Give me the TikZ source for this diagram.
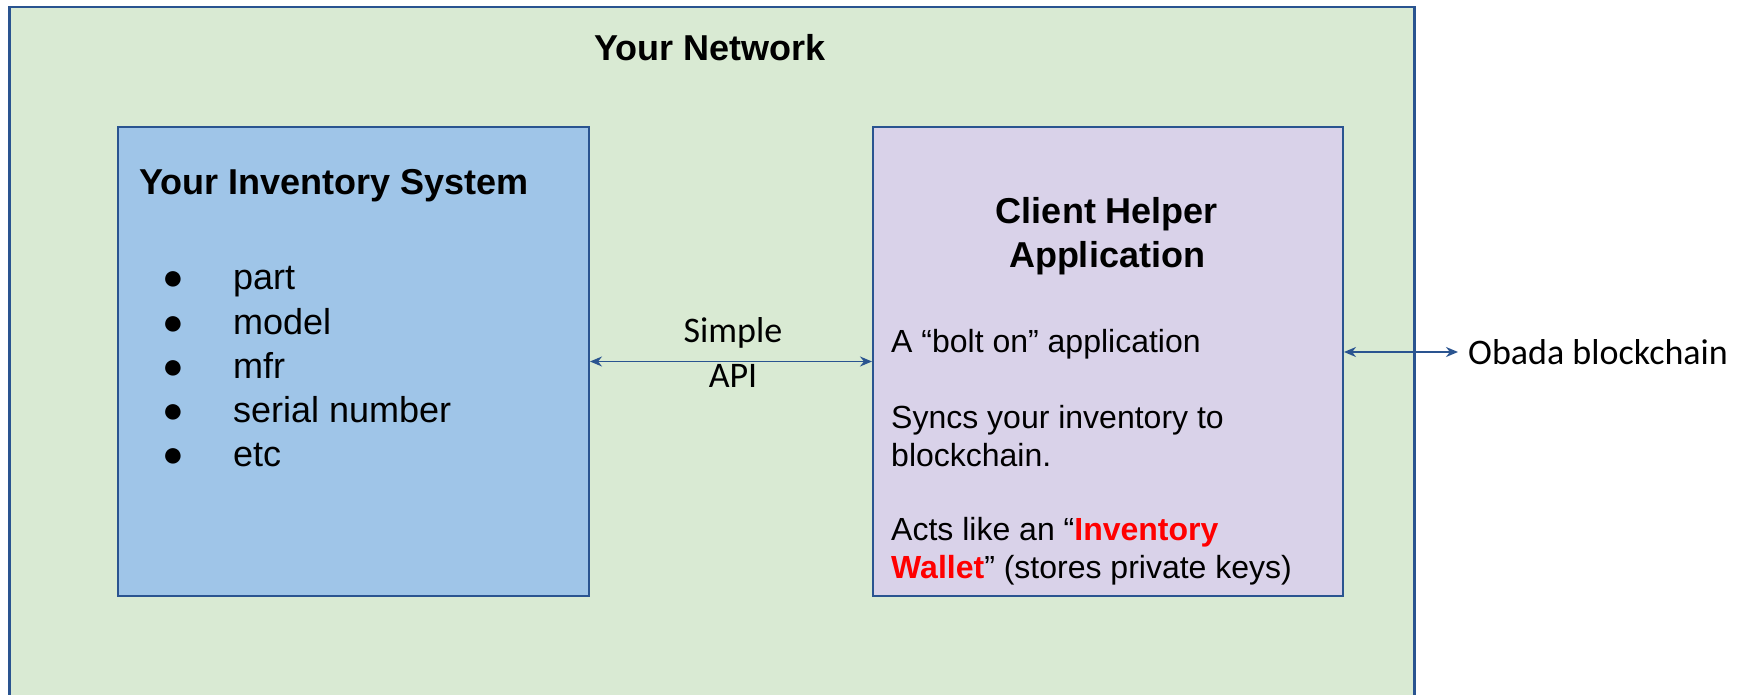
\documentclass[tikz,border=0pt]{standalone}
\usepackage{fontspec}
\setmainfont{Liberation Sans}
\newfontfamily\calfont{Carlito}
\usetikzlibrary{arrows.meta}
\definecolor{netgreen}{HTML}{D9EAD3}
\definecolor{invblue}{HTML}{9FC5E8}
\definecolor{apppurple}{HTML}{D9D2E9}
\definecolor{edgeblue}{HTML}{2A5490}
\definecolor{wred}{HTML}{FF0000}
\begin{document}
\begin{tikzpicture}[x=1pt,y=-1pt,
  box/.style={draw=edgeblue, line width=2pt, anchor=north west, inner sep=0pt},
  lbl/.style={inner sep=0pt, anchor=base west},
  titlefont/.style={font=\fontsize{36}{44}\selectfont\bfseries},
  listfont/.style={font=\fontsize{36}{44}\selectfont},
  bodyfont/.style={font=\fontsize{32}{38}\selectfont},
  calfontstyle/.style={font=\fontsize{36}{45}\selectfont\calfont},
  conn/.style={draw=edgeblue, line width=1.8pt, {Stealth[length=12pt,width=10pt]}-{Stealth[length=12pt,width=10pt]}},
]
\useasboundingbox (0,0) rectangle (1738,695);
\clip (0,0) rectangle (1738,695);
\fill[white] (0,0) rectangle (1738,695);

% boxes
\node[box, fill=netgreen, line width=2.5pt, minimum width=1405pt, minimum height=720pt] (net) at (8,6) {};
\node[box, fill=invblue, minimum width=471pt, minimum height=469pt] (inv) at (117,126) {};
\node[box, fill=apppurple, minimum width=470pt, minimum height=469pt] (app) at (872,126) {};

% titles
\node[inner sep=0pt, anchor=base, titlefont] (nettitle) at (710,61) {Your Network};
\node[lbl, titlefont] (invtitle) at (139,195) {Your Inventory System};
\node[inner sep=0pt, anchor=base, titlefont, align=center] (apptitle) at (1107,268) {Client Helper\\Application};

% list
\foreach \i/\t/\y in {1/part/290, 2/model/334, 3/mfr/378, 4/serial number/422, 5/etc/466}{
  \node[inner sep=0pt, anchor=base, listfont] (bul\i) at (173,\y) {●};
  \node[lbl, listfont] (item\i) at (233,\y) {\t};
}

% body text
\node[lbl, bodyfont] (bolt) at (891,352) {A “bolt on” application};
\node[lbl, bodyfont, align=left] (syncs) at (891,466) {Syncs your inventory to\\blockchain.};
\node[lbl, bodyfont, align=left] (wallet) at (891,578) {Acts like an “\textcolor{wred}{\bfseries Inventory}\\\textcolor{wred}{\bfseries Wallet}” (stores private keys)};

% connectors
\node[inner sep=0pt, anchor=center, calfontstyle, align=center] (api) at (733,353) {Simple\\API};
\node[inner sep=0pt, anchor=west, calfontstyle] (obada) at (1468,352) {Obada blockchain};
\coordinate (obtip) at (1458,352);
\draw[conn] (inv.east) -- (app.west);
\draw[conn] (app.east |- obtip) -- (obtip);
\end{tikzpicture}
\end{document}
